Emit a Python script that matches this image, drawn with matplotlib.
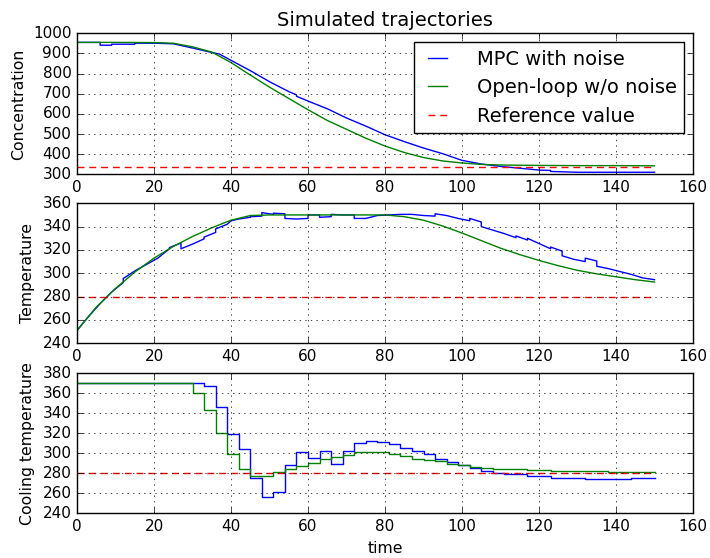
import numpy as np
import matplotlib
matplotlib.use('Agg')
import matplotlib.pyplot as plt

plt.style.use('classic')

# concentration (time, value); repeated times are jumps
t_conc_mpc = [0, 6, 6, 9, 9, 15, 15, 20, 25, 30, 35, 37, 40, 45, 50, 55, 57, 57, 60, 65,
              70, 75, 80, 85, 90, 95, 100, 105, 110, 115, 120, 123, 123, 125, 130, 150]
conc_mpc = [955, 955, 941, 941, 946, 946, 951, 951, 948, 927, 905, 897, 866, 815, 760, 711, 695, 688, 664, 626,
            580, 540, 497, 463, 431, 403, 370, 352, 340, 331, 322, 320, 315, 314, 311, 311]
t_conc_ol = [0, 10, 20, 25, 30, 35, 40, 45, 50, 55, 60, 65, 70, 75, 80, 85, 90, 95, 100,
             105, 110, 120, 130, 140, 150]
conc_ol = [955, 955, 954, 951, 933, 907, 855, 793, 733, 677, 621, 568, 524, 480, 441, 409, 384, 367, 357,
           350, 347, 345, 344, 344, 343]
conc_ref = 339

# reactor temperature
t_temp_mpc = [0, 3, 6, 9, 12, 12, 15, 18, 21, 24, 24, 27, 27, 30, 33, 33, 36, 36, 39, 40,
              42, 45, 45, 48, 48, 51, 51, 54, 54, 57, 60, 60, 63, 63, 66, 66, 69, 72, 72, 75,
              78, 81, 84, 87, 90, 93, 93, 96, 99, 102, 102, 105, 105, 108, 111, 114, 114, 117, 117, 120,
              123, 123, 126, 126, 129, 132, 132, 135, 135, 138, 141, 144, 147, 150]
temp_mpc = [251, 263, 274, 284, 292, 295.5, 302, 307.5, 313, 321, 322, 326, 321, 325, 329.5, 331, 335, 338, 342, 345,
            346.5, 348, 348.5, 349, 352, 350.5, 351.5, 351, 347, 346.5, 347, 350, 350, 348, 348.5, 350.5, 350, 350, 347, 347,
            349.5, 350, 350.5, 350.5, 349.5, 349, 351, 349.5, 347, 345, 347, 344, 340, 337, 334, 330.5, 332, 328.5, 330, 325.5,
            321, 322.5, 319, 315, 312, 310, 313, 310.5, 306, 304, 301.5, 299, 296, 294.5]
t_temp_ol = [0, 5, 10, 15, 20, 25, 30, 35, 40, 45, 50, 55, 60, 65, 70, 75, 80, 85, 90, 95,
             100, 105, 110, 115, 120, 125, 130, 135, 140, 145, 150]
temp_ol = [251, 271, 287, 301, 313, 323, 331.5, 339, 345.5, 349.5, 350, 350, 350, 350, 350, 350, 350, 348.5, 345.5, 340.5,
           334.5, 328, 321.5, 316, 311, 306.5, 302.5, 299.5, 297, 294.5, 292.5]
temp_ref = 280

# cooling temperature, piecewise constant on 3-unit intervals
t_cool = np.arange(0, 151, 3)
cool_mpc = [370, 370, 370, 370, 370, 370, 370, 370, 370, 370, 370, 367, 346, 319, 304, 275, 256, 261, 288, 301,
            295, 302, 289, 302, 310, 312.5, 311.5, 309, 305, 302.5, 299.5, 294.5, 291.5, 288.5, 285, 282.3, 280.7, 279, 279, 277,
            277, 275, 275, 275, 274, 274, 274, 274, 275, 275]
cool_ol = [370, 370, 370, 370, 370, 370, 370, 370, 370, 370, 360, 343, 320, 299, 284, 277, 277, 281, 284, 287,
           290, 294, 296, 298, 301, 301, 301, 299, 297, 294.5, 293, 292, 289, 288, 286, 285, 284, 284, 284, 283,
           283, 282, 282, 282, 282, 282, 281, 281, 281, 281]
cool_ref = 280

fig = plt.figure(figsize=(7.1, 5.58), dpi=100, facecolor='white')
ax1 = fig.add_axes([0.1085, 0.6873, 0.8676, 0.2530])
ax2 = fig.add_axes([0.1085, 0.3848, 0.8676, 0.2509])
ax3 = fig.add_axes([0.1085, 0.0801, 0.8676, 0.2509])

dash = (5, 3.5)

ax1.plot(t_conc_mpc, conc_mpc, 'b', label='MPC with noise')
ax1.plot(t_conc_ol, conc_ol, 'g', label='Open-loop w/o noise')
ax1.plot([0, 150], [conc_ref, conc_ref], 'r--', dashes=dash, label='Reference value')
ax1.set_ylim(300, 1000)
ax1.set_ylabel('Concentration', fontsize=11.3)
ax1.set_title('Simulated trajectories', fontsize=14)
ax1.legend(loc='upper right', fontsize=14, handlelength=1.6, labelspacing=0.48,
           borderaxespad=0.45, handletextpad=1.2)

ax2.plot(t_temp_mpc, temp_mpc, 'b')
ax2.plot(t_temp_ol, temp_ol, 'g')
ax2.plot([0, 150], [temp_ref, temp_ref], 'r--', dashes=dash)
ax2.set_ylim(240, 360)
ax2.set_ylabel('Temperature', fontsize=11.3)

u_mpc = list(cool_mpc) + [cool_mpc[-1]]
u_ol = list(cool_ol) + [cool_ol[-1]]
ax3.step(t_cool, u_mpc, 'b', where='post')
ax3.step(t_cool, u_ol, 'g', where='post')
ax3.plot([0, 150], [cool_ref, cool_ref], 'r--', dashes=dash)
ax3.set_ylim(240, 380)
ax3.set_ylabel('Cooling temperature', fontsize=11.3)
ax3.set_xlabel('time', fontsize=11.3)

for ax in (ax1, ax2, ax3):
    ax.set_xlim(0, 160)
    ax.grid(True)
    ax.tick_params(labelsize=11)

fig.savefig('out.png', dpi=100, facecolor='white')
